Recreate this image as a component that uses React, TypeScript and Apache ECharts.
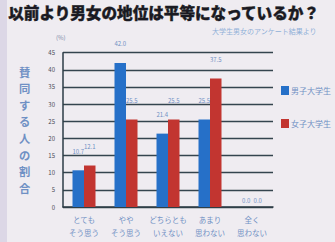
import React, { useEffect, useRef } from "react";
import * as echarts from "echarts";

const titleText = "以前より男女の地位は平等になっているか？";
const sourceText = "大学生男女のアンケート結果より";
const yAxisTitle = "賛同する人の割合";
const categories = ["とても\nそう思う", "やや\nそう思う", "どちらとも\nいえない", "あまり\n思わない", "全く\n思わない"];
const seriesNames = ["男子大学生", "女子大学生"];
const maleValues = [10.7, 42.0, 21.4, 25.5, 0.0];
const femaleValues = [12.1, 25.5, 25.5, 37.5, 0.0];
const yTicks = { min: 0, max: 45, interval: 5 };

const BLUE = "#2670c8";
const RED = "#c23530";
const HAND = "#6f90c4";

export default function App() {
  const ref = useRef<HTMLDivElement>(null);
  useEffect(() => {
    if (!ref.current) return;
    const chart = echarts.init(ref.current, undefined, { renderer: "svg" });
    const mk = (vals: number[]) =>
      vals.map((v) => ({
        value: v,
        label: { distance: v === 0 ? 4 : 16 },
      }));
    const labelCfg = {
      show: true,
      position: "top",
      fontSize: 6,
      color: HAND,
      fontFamily: "Noto Sans CJK JP",
      formatter: (p: any) => Number(p.value).toFixed(1),
    };
    const vertChars = yAxisTitle.split("").map((ch, i) => ({
      type: "text",
      left: 19,
      top: 66 + i * 16.6,
      style: { text: ch, fontSize: 11.3, fontWeight: "bold", fill: HAND, fontFamily: "Noto Sans CJK JP" },
    }));
    chart.setOption({
      animation: false,
      backgroundColor: "#efecf1",
      textStyle: { fontFamily: "Noto Sans CJK JP" },
      graphic: [
        { type: "rect", left: 0, top: 0, shape: { width: 7, height: 242 }, style: { fill: "#dcd7e6" } },
        {
          type: "text",
          left: 8,
          top: 4,
          style: {
            text: titleText,
            fontSize: 15.6,
            fontWeight: 900,
            fill: "#1a1a22",
            stroke: "#1a1a22",
            lineWidth: 0.4,
            fontFamily: "Noto Sans CJK JP",
          },
        },
        {
          type: "text",
          left: 212,
          top: 27,
          style: { text: sourceText, fontSize: 7, fill: "#8fb0d8", fontFamily: "Noto Sans CJK JP" },
        },
        {
          type: "text",
          left: 56,
          top: 34,
          style: { text: "(%)", fontSize: 6, fill: "#7d8aa8", fontFamily: "Noto Sans CJK JP" },
        },
        ...vertChars,
      ],
      legend: {
        orient: "vertical",
        left: 276,
        top: 81,
        itemWidth: 8,
        itemHeight: 9,
        itemGap: 24,
        icon: "rect",
        data: seriesNames,
        textStyle: { fontSize: 8, color: HAND, padding: [0, 0, 0, -3] },
      },
      grid: { left: 63, right: 62, top: 52.7, bottom: 35 },
      xAxis: {
        type: "category",
        data: categories,
        axisLine: { show: true, lineStyle: { color: "#2d3c46", width: 1.5 } },
        axisTick: { show: false },
        axisLabel: { fontSize: 7.5, lineHeight: 13, color: HAND, margin: 6, interval: 0 },
      },
      yAxis: {
        type: "value",
        min: yTicks.min,
        max: yTicks.max,
        interval: yTicks.interval,
        axisLine: { show: true, lineStyle: { color: "#2d3c46", width: 1.5 } },
        axisTick: { show: false },
        axisLabel: { fontSize: 6, color: "#4a4a58", margin: 8 },
        splitLine: { show: true, lineStyle: { color: "#34444e", width: 1.3 } },
      },
      series: [
        {
          name: seriesNames[0],
          type: "bar",
          data: mk(maleValues),
          barWidth: 11.5,
          barGap: "0%",
          itemStyle: { color: BLUE },
          label: labelCfg,
        },
        {
          name: seriesNames[1],
          type: "bar",
          data: mk(femaleValues),
          barWidth: 11.5,
          itemStyle: { color: RED },
          label: labelCfg,
        },
      ],
    });
    return () => chart.dispose();
  }, []);
  return (
    <div
      ref={ref}
      style={{ position: "fixed", left: 0, top: 0, width: 335, height: 242 }}
    />
  );
}
